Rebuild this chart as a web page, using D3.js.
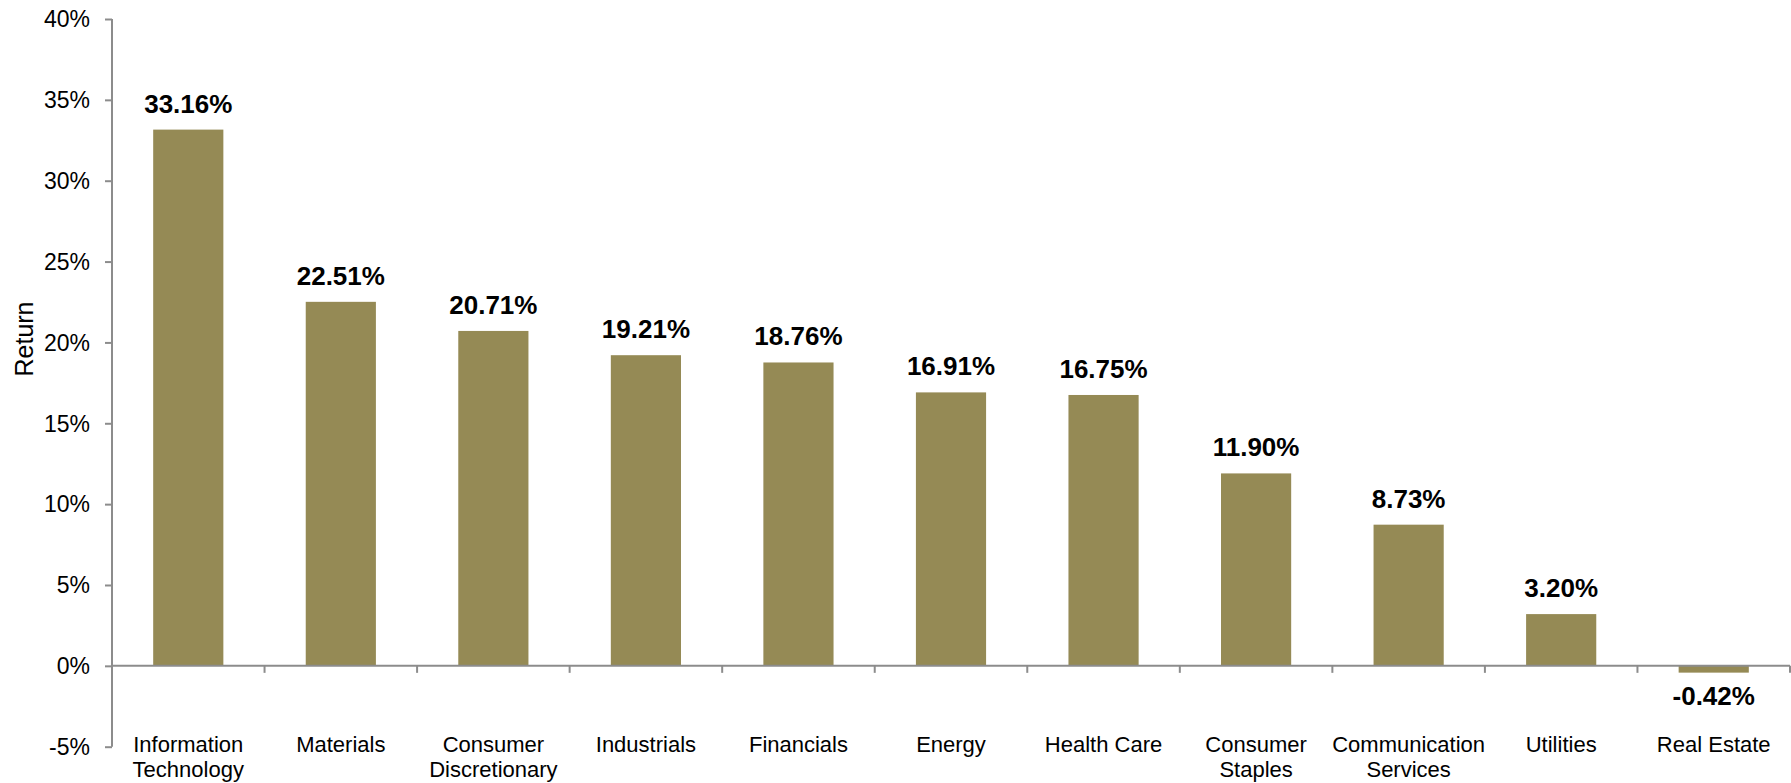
<!DOCTYPE html>
<html>
<head>
<meta charset="utf-8">
<script src="https://cdn.jsdelivr.net/npm/d3@7"></script>
<style>
  html, body { margin: 0; padding: 0; background: #fff; }
  svg { display: block; }
  text { font-family: "Liberation Sans", Arial, sans-serif; fill: #000; }
</style>
</head>
<body>
<svg id="chart" width="1791" height="783"></svg>
<script>
// Sector returns
const sectors = [
  ["Information", "Technology"],
  ["Materials"],
  ["Consumer", "Discretionary"],
  ["Industrials"],
  ["Financials"],
  ["Energy"],
  ["Health Care"],
  ["Consumer", "Staples"],
  ["Communication", "Services"],
  ["Utilities"],
  ["Real Estate"]
];
const returns = [33.16, 22.51, 20.71, 19.21, 18.76, 16.91, 16.75, 11.90, 8.73, 3.20, -0.42];
const yTicks = [-5, 0, 5, 10, 15, 20, 25, 30, 35, 40];
const yTitle = "Return";

(function draw() {
  const svg = d3.select("#chart");
  const axisColor = "#8c8c8c";
  const barColor = "#958a55";

  const plotLeft = 112, plotRight = 1790, plotTop = 19, plotBottom = 746.7;
  const keys = sectors.map(d => d.join(" "));

  const x = d3.scaleBand()
    .domain(keys)
    .range([plotLeft, plotRight])
    .paddingInner(0.54)
    .paddingOuter(0.27);

  const slot = d3.scaleBand().domain(keys).range([plotLeft, plotRight]).padding(0);

  const y = d3.scaleLinear().domain([-5, 40]).range([plotBottom, plotTop]);

  // Y axis
  const yAxis = svg.append("g")
    .attr("transform", `translate(${plotLeft},0)`)
    .call(d3.axisLeft(y).tickValues(yTicks).tickSize(7).tickPadding(15)
      .tickFormat(d => d + "%"));
  yAxis.select(".domain").attr("stroke", axisColor).attr("stroke-width", 2)
    .attr("d", `M0,${plotTop}V${plotBottom}`);
  yAxis.selectAll(".tick line").attr("stroke", axisColor).attr("stroke-width", 2);
  yAxis.selectAll(".tick text")
    .style("font-family", "'Liberation Sans', Arial, sans-serif")
    .style("font-size", "23px").attr("fill", "#000").attr("dy", "0.34em");

  // Bars
  svg.append("g").selectAll("rect")
    .data(returns)
    .join("rect")
    .attr("x", (d, i) => x(keys[i]))
    .attr("width", x.bandwidth())
    .attr("y", d => y(Math.max(0, d)))
    .attr("height", d => Math.abs(y(d) - y(0)))
    .attr("fill", barColor);

  // X axis along zero with category boundary ticks
  const xg = svg.append("g").attr("transform", `translate(0,${y(0)})`);
  xg.append("line").attr("x1", plotLeft).attr("x2", plotRight)
    .attr("stroke", axisColor).attr("stroke-width", 2);
  const bounds = keys.map(k => slot(k) + slot.bandwidth());
  xg.selectAll("line.tk").data(bounds).join("line")
    .attr("class", "tk")
    .attr("x1", d => d).attr("x2", d => d)
    .attr("y1", 0).attr("y2", 7)
    .attr("stroke", axisColor).attr("stroke-width", 2);

  // Category labels
  svg.append("g").selectAll("text")
    .data(sectors)
    .join("text")
    .attr("text-anchor", "middle")
    .style("font-size", "22px")
    .attr("transform", (d, i) => `translate(${slot(keys[i]) + slot.bandwidth() / 2},751.5)`)
    .selectAll("tspan")
    .data(d => d)
    .join("tspan")
    .attr("x", 0)
    .attr("y", (d, j) => j * 25.5)
    .text(d => d);

  // Value labels
  svg.append("g").selectAll("text")
    .data(returns)
    .join("text")
    .attr("text-anchor", "middle")
    .style("font-size", "26px")
    .style("font-weight", "bold")
    .attr("x", (d, i) => x(keys[i]) + x.bandwidth() / 2)
    .attr("y", d => d >= 0 ? y(d) - 17 : y(d) + 32)
    .text(d => d.toFixed(2) + "%");

  // Y axis title
  svg.append("text")
    .attr("transform", "translate(33,339) rotate(-90)")
    .attr("text-anchor", "middle")
    .style("font-size", "25px")
    .text(yTitle);
})();
</script>
</body>
</html>
